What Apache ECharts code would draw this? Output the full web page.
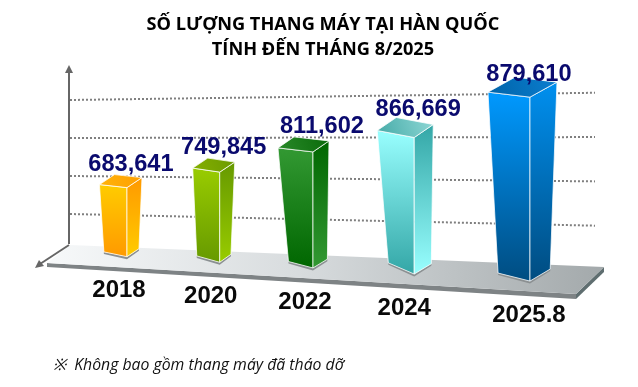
<!DOCTYPE html>
<html>
<head>
<meta charset="utf-8">
<style>html,body{margin:0;padding:0;background:#fff}#c{width:638px;height:387px}</style>
<script src="https://cdn.jsdelivr.net/npm/echarts@6/dist/echarts.min.js"></script>
</head>
<body>
<div id="c"></div>
<script>
const categories = ['2018', '2020', '2022', '2024', '2025.8'];
const elevatorCounts = [683641, 749845, 811602, 866669, 879610];
const gridValues = [600000, 700000, 800000, 900000];
const titleText = 'SỐ LƯỢNG THANG MÁY TẠI HÀN QUỐC\nTÍNH ĐẾN THÁNG 8/2025';
const noteText = '※  Không bao gồm thang máy đã tháo dỡ';

// Pictorial perspective of the drawing, per category (not data).
const nearness = [0.99, 0.95, 0.98, 0.98, 1.275];
const xWarp = [0, -8, -15.5, -15, 0];
const frontW = [27.5, 27, 35, 37, 42];
const sideW = [15, 15, 16, 19, 27];
const leftRise = [3, 4, 4, 7, 5];
const sideRise = [10, 10, 11, 13, 15];
const taper = [0.84, 0.85, 0.7, 0.7, 0.76];
const sideTaper = [0.8, 0.75, 0.9, 0.9, 0.75];
const valueLabelDx = [4, 4, 9, 4, -1];
const valueLabelDy = [-23, -25, -25, -28, -23];
const catLabelDx = [-8, -9, -8, -10, -1];
const palette = [
  { a: '#ffcc00', b: '#ff9900', sa: '#ff9900', sb: '#ffcc00', t: '#ffb30a', t2: '#ff9f00' },
  { a: '#99cc00', b: '#669900', sa: '#669900', sb: '#99cc00', t: '#86b000', t2: '#6a9a00' },
  { a: '#339933', b: '#006600', sa: '#006600', sb: '#339933', t: '#2a8a2a', t2: '#0a6a0a' },
  { a: '#99ffff', b: '#33a6a6', sa: '#33a6a6', sb: '#99ffff', t: '#44a9a6', t2: '#8fd8d6' },
  { a: '#0099ff', b: '#004c80', sa: '#0090f0', sb: '#004c80', t: '#0063a8', t2: '#0b7ed0' }
];

const grad = (c1, c2) => ({ type: 'linear', x: 0, y: 0, x2: 0, y2: 1,
  colorStops: [{ offset: 0, color: c1 }, { offset: 1, color: c2 }] });
const hairline = 'rgba(255,255,255,0.75)';

function renderGrid(params, api) {
  const v = api.value(0);
  const baseY = api.coord([0, 500000])[1];
  const h = baseY - api.coord([0, v])[1];
  return {
    type: 'line', silent: true,
    shape: { x1: 70, y1: 252 - h, x2: 595, y2: 270 - h * 1.166 },
    style: { stroke: '#7f7f7f', lineWidth: 2, lineDash: [2, 2] }
  };
}

function renderBar(params, api) {
  const i = api.value(0);
  const v = api.value(1);
  const x = api.coord([i, v])[0] + xWarp[i];
  const yTop0 = api.coord([i, v])[1];
  const baseAxis = api.coord([i, 500000])[1];
  const h = (baseAxis - yTop0) * nearness[i];
  const base = 249 + 0.0605 * x;
  const top = base - h;
  const fw = frontW[i], sw = sideW[i], lr = leftRise[i], sr = sideRise[i];
  const p = palette[i];
  const TL = [x - fw, top - lr], TR = [x, top], TS = [x + sw, top - sr], TB = [x - fw + sw, top - lr - sr];
  const BL = [x - fw * taper[i], base - lr * 1.6], BR = [x, base], BS = [x + sw * sideTaper[i], base - sr * 0.8];
  const poly = (pts, fill, extra) => ({
    type: 'polygon', shape: { points: pts },
    style: Object.assign({ fill: fill, stroke: hairline, lineWidth: 1 }, extra || {})
  });
  return {
    type: 'group',
    children: [
      poly([BL, BR, BS, [BS[0], BS[1] + 2], [BR[0], BR[1] + 2.5], [BL[0], BL[1] + 2]], '#8b9092', { stroke: 'none' }),
      poly([TL, TR, BR, BL], grad(p.a, p.b)),
      poly([TR, TS, BS, BR], grad(p.sa, p.sb)),
      poly([TL, TB, TS, TR], { type: 'linear', x: 0, y: 1, x2: 1, y2: 0,
        colorStops: [{ offset: 0, color: p.t }, { offset: 1, color: p.t2 }] }),
      { type: 'text', style: {
          text: api.value(2), x: x + valueLabelDx[i], y: top + valueLabelDy[i],
          align: 'center', verticalAlign: 'middle',
          fontFamily: 'Liberation Sans', fontWeight: 'bold', fontSize: 23.6, fill: '#0a0a6e' } },
      { type: 'text', style: {
          text: categories[i], x: x + catLabelDx[i], y: base + 34,
          align: 'center', verticalAlign: 'middle',
          fontFamily: 'Liberation Sans', fontWeight: 'bold', fontSize: 24, fill: '#0a0a0a' } }
    ]
  };
}

const chart = echarts.init(document.getElementById('c'), null, { renderer: 'canvas' });
chart.setOption({
  animation: false,
  backgroundColor: '#fff',
  title: [
    { text: titleText, left: 318, top: 7, textAlign: 'center',
      textStyle: { fontFamily: 'Open Sans', fontWeight: 'bold', fontSize: 18.2, lineHeight: 25, color: '#000' } },
    { text: noteText, left: 48, top: 352,
      textStyle: { fontFamily: 'Open Sans', fontStyle: 'italic', fontWeight: 'normal', fontSize: 15.8, color: '#111' } }
  ],
  grid: { left: 76.6, width: 503.75, top: 40, height: 228 },
  xAxis: { type: 'category', data: categories, show: false },
  yAxis: { type: 'value', min: 500000, max: 1100000, interval: 100000, show: false },
  graphic: [
    { type: 'polygon', z: 0, shape: { points: [[47, 263], [576, 294], [576, 299], [47, 267]] },
      style: { fill: '#7e8385' } },
    { type: 'polygon', z: 0, shape: { points: [[576, 294], [604, 267], [604, 272], [576, 299]] },
      style: { fill: '#5f6e70' } },
    { type: 'polygon', z: 0, shape: { points: [[47, 263], [70, 245], [604, 267], [576, 294]] },
      style: { fill: { type: 'linear', x: 0, y: 0, x2: 1, y2: 0,
        colorStops: [{ offset: 0, color: '#f7f9fa' }, { offset: 0.45, color: '#d8dcde' }, { offset: 1, color: '#a3a9ab' }] } } },
    { type: 'polyline', z: 1, shape: { points: [[69, 244], [69, 70]] }, style: { stroke: '#666', lineWidth: 2, fill: 'none' } },
    { type: 'polygon', z: 1, shape: { points: [[69, 65], [65, 73], [73, 73]] }, style: { fill: '#666' } },
    { type: 'polyline', z: 1, shape: { points: [[69, 245], [40, 264]] }, style: { stroke: '#666', lineWidth: 2, fill: 'none' } },
    { type: 'polygon', z: 1, shape: { points: [[35, 268], [39, 260], [44, 266]] }, style: { fill: '#666' } }
  ],
  series: [
    { type: 'custom', coordinateSystem: 'cartesian2d', silent: true, z: 2,
      renderItem: renderGrid, encode: { y: 0 },
      data: gridValues.map(v => [v]) },
    { type: 'custom', coordinateSystem: 'cartesian2d', silent: true, z: 3,
      renderItem: renderBar, encode: { x: 0, y: 1 },
      data: elevatorCounts.map((v, i) => [i, v, v.toLocaleString('en-US')]) }
  ]
});
</script>
</body>
</html>
